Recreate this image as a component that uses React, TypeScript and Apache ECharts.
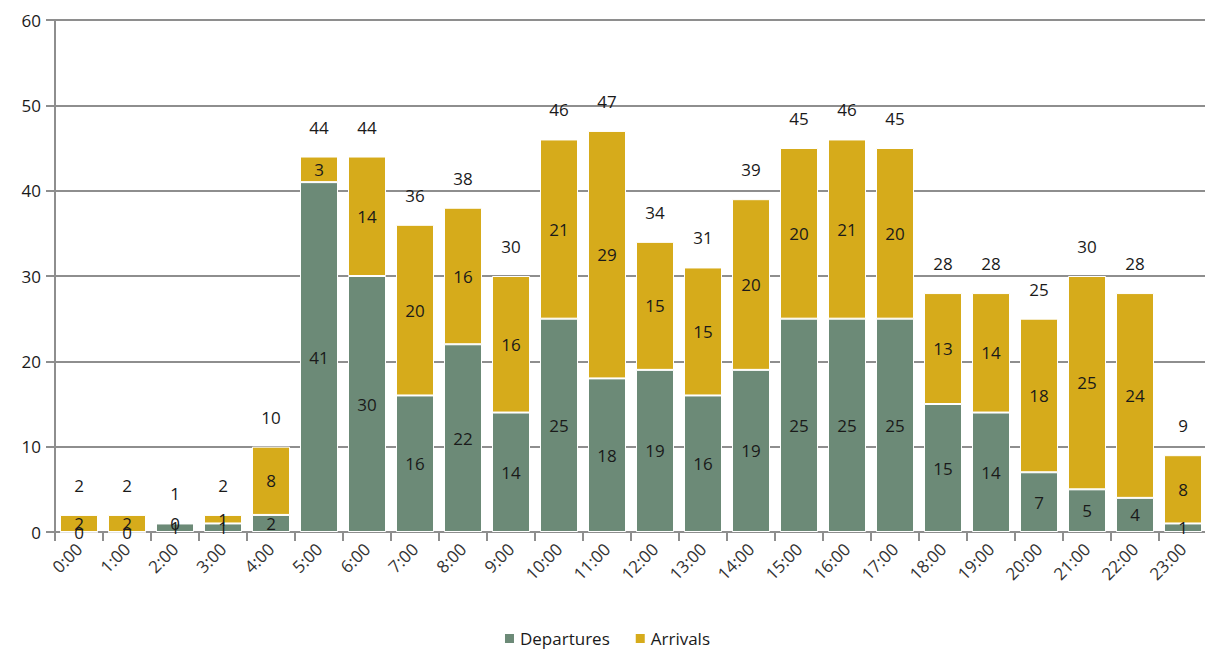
import React, { useEffect, useRef } from "react";
import * as echarts from "echarts";

const hours = [
  "0:00", "1:00", "2:00", "3:00", "4:00", "5:00", "6:00", "7:00", "8:00", "9:00",
  "10:00", "11:00", "12:00", "13:00", "14:00", "15:00", "16:00", "17:00", "18:00",
  "19:00", "20:00", "21:00", "22:00", "23:00",
];
const departures = [0, 0, 1, 1, 2, 41, 30, 16, 22, 14, 25, 18, 19, 16, 19, 25, 25, 25, 15, 14, 7, 5, 4, 1];
const arrivals = [2, 2, 0, 1, 8, 3, 14, 20, 16, 16, 21, 29, 15, 15, 20, 20, 21, 20, 13, 14, 18, 25, 24, 8];
const totals = departures.map((d, i) => d + arrivals[i]);

const FONT = "'Open Sans', 'Noto Sans', sans-serif";
const GREEN = "#6c8a77";
const GOLD = "#d6ab1b";
const GRID = "#8e8e8e";

export default function App() {
  const ref = useRef<HTMLDivElement>(null);

  useEffect(() => {
    if (!ref.current) return;
    const chart = echarts.init(ref.current, null, { renderer: "svg" });
    const insideLabel = {
      show: true,
      position: "inside",
      color: "#1a1a1a",
      fontSize: 17,
      fontFamily: FONT,
    };
    chart.setOption({
      animation: false,
      textStyle: { fontFamily: FONT },
      grid: { left: 55, right: 6, top: 20, bottom: 125, containLabel: false },
      legend: {
        data: ["Departures", "Arrivals"],
        bottom: 5,
        left: "center",
        itemWidth: 11,
        itemHeight: 11,
        itemGap: 24,
        icon: "rect",
        textStyle: { fontSize: 17, color: "#1a1a1a", fontFamily: FONT },
      },
      xAxis: {
        type: "category",
        data: hours,
        axisLine: { lineStyle: { color: GRID, width: 2 } },
        axisTick: { show: true, alignWithLabel: false, length: 9, lineStyle: { color: GRID, width: 2 } },
        axisLabel: { rotate: 45, fontSize: 17, color: "#333", fontFamily: FONT, margin: 14 },
      },
      yAxis: {
        type: "value",
        min: 0,
        max: 60,
        interval: 10,
        axisLine: { show: true, lineStyle: { color: GRID, width: 2 } },
        axisTick: { show: true, length: 9, lineStyle: { color: GRID, width: 2 } },
        splitLine: { lineStyle: { color: GRID, width: 2 } },
        axisLabel: { fontSize: 17, color: "#1a1a1a", fontFamily: FONT, margin: 14 },
      },
      series: [
        {
          name: "Departures",
          type: "bar",
          stack: "flights",
          data: departures,
          barWidth: 38,
          itemStyle: { color: GREEN, borderColor: "#fff", borderWidth: 1 },
          label: insideLabel,
        },
        {
          name: "Arrivals",
          type: "bar",
          stack: "flights",
          data: arrivals,
          barWidth: 38,
          itemStyle: { color: GOLD, borderColor: "#fff", borderWidth: 1 },
          label: insideLabel,
        },
        {
          name: "Total",
          type: "bar",
          data: totals,
          barWidth: 38,
          barGap: "-100%",
          z: 1,
          itemStyle: { color: "rgba(0,0,0,0)" },
          label: {
            show: true,
            position: "top",
            distance: 21,
            color: "#1a1a1a",
            fontSize: 17,
            fontFamily: FONT,
          },
          silent: true,
        },
      ],
    });
    return () => chart.dispose();
  }, []);

  return <div ref={ref} style={{ width: 1213, height: 657, margin: -8 }} />;
}
